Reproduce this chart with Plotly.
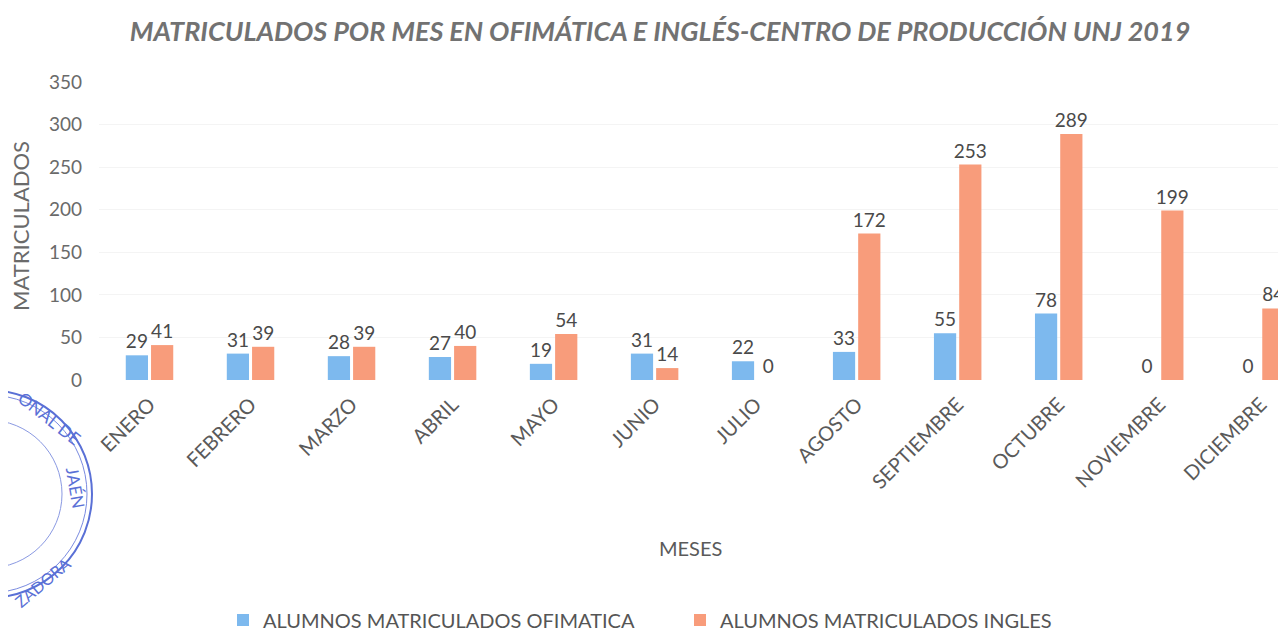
import plotly.graph_objects as go

meses = ["ENERO", "FEBRERO", "MARZO", "ABRIL", "MAYO", "JUNIO", "JULIO",
         "AGOSTO", "SEPTIEMBRE", "OCTUBRE", "NOVIEMBRE", "DICIEMBRE"]
ofimatica = [29, 31, 28, 27, 19, 31, 22, 33, 55, 78, 0, 0]
ingles = [41, 39, 39, 40, 54, 14, 0, 172, 253, 289, 199, 84]
y_ticks = [0, 50, 100, 150, 200, 250, 300, 350]

FONT = "Lato"
TXT = "#4a4a4a"
OFF = 8  # page body margin

W, H = 1278, 623
ML, MR, MT, MB = 91, 0, 74, 251
PW, PH = W - ML - MR, H - MT - MB


def px(x):
    return (x - OFF - ML) / PW


def py(y):
    return (H - (y - OFF) - MB) / PH


fig = go.Figure()
fig.add_trace(go.Bar(
    x=meses, y=ofimatica, name="ALUMNOS MATRICULADOS OFIMATICA",
    marker=dict(color="#7db9ee", line=dict(width=0)),
    text=ofimatica, textposition="outside", cliponaxis=False,
    textfont=dict(family=FONT, size=19, color=TXT),
))
fig.add_trace(go.Bar(
    x=meses, y=ingles, name="ALUMNOS MATRICULADOS INGLES",
    marker=dict(color="#f89c7b", line=dict(width=0)),
    text=ingles, textposition="outside", cliponaxis=False,
    textfont=dict(family=FONT, size=19, color=TXT),
))

fig.update_layout(
    width=W, height=H,
    margin=dict(l=ML, r=MR, t=MT, b=MB, autoexpand=False),
    paper_bgcolor="white", plot_bgcolor="white",
    barmode="group", bargap=0.5, bargroupgap=0.12,
    uniformtext=dict(minsize=19, mode="show"),
    font=dict(family=FONT, color=TXT),
    title=dict(
        text="<b><i>MATRICULADOS POR MES EN OFIMÁTICA E INGLÉS-CENTRO DE PRODUCCIÓN UNJ 2019</i></b>",
        x=(660 - OFF) / W, xanchor="center", y=1 - (32 - OFF) / H, yanchor="middle",
        font=dict(family=FONT, size=27, color="#727272"),
    ),
    xaxis=dict(
        range=[-0.5, 11.25], tickangle=-45,
        tickfont=dict(family=FONT, size=20, color="#5a5a5a"),
        showline=False, ticks="", showgrid=False,
        ticklabelstandoff=8,
    ),
    yaxis=dict(
        range=[0, 350], tickvals=y_ticks,
        tickfont=dict(family=FONT, size=19, color="#6a6a6a"),
        showgrid=True, gridcolor="#f4f4f4", zeroline=False, showline=False,
        ticklabelstandoff=16,
    ),
    legend=dict(
        orientation="h", x=px(245 - 22), xanchor="left",
        y=1 - (620 - OFF) / H, yanchor="middle", yref="container",
        font=dict(family=FONT, size=20, color="#555"),
        itemwidth=30, entrywidth=412, tracegroupgap=0,
    ),
    showlegend=True,
)

fig.add_annotation(text="MESES", xref="paper", yref="paper",
                   x=px(690), y=py(548), showarrow=False,
                   xanchor="center", yanchor="middle",
                   font=dict(family=FONT, size=20, color="#5a5a5a"))
fig.add_annotation(text="MATRICULADOS", xref="paper", yref="paper",
                   x=px(20), y=py(226), showarrow=False, textangle=-90,
                   xanchor="center", yanchor="middle",
                   font=dict(family=FONT, size=22, color="#6a6a6a"))

# scanned stamp (document artifact)
cx, cy = -12, 494
for r, w, c in [(104, 2, "#5a70d6"), (99, 1, "#7a8be0"), (74, 1, "#8a99e2")]:
    fig.add_shape(type="circle", xref="paper", yref="paper",
                  x0=px(cx - r), x1=px(cx + r), y0=py(cy + r), y1=py(cy - r),
                  line=dict(color=c, width=w))
for txt, x, y, ang, s in [("ONAL DE", 50, 418, 38, 17), ("JAÉN", 76, 487, 80, 17),
                          ("ZADORA", 42, 582, -40, 16)]:
    fig.add_annotation(text=txt, xref="paper", yref="paper", x=px(x), y=py(y),
                       showarrow=False, textangle=ang,
                       xanchor="center", yanchor="middle",
                       font=dict(family=FONT, size=s, color="#5a70d6"))

fig.write_html("out.html")
